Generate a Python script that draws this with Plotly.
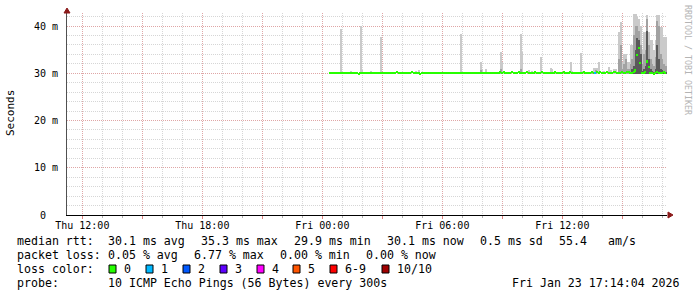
import pandas as pd
import plotly.graph_objects as go

# ------------------------------------------------------------------ data
day = "2026-01-23 "
median_start = day + "00:25"
# median RTT (ms), one value per 5-minute step, 00:25 .. 17:10
median_rtt_ms = [
    30.0, 30.0, 30.0, 30.0, 30.0, 30.0, 30.0,                               # 00:25-00:55
    30.0, 30.0, 30.0, 30.0, 30.0, 30.0, 30.0, 30.0, 30.0, 30.0, 29.9, 30.0,  # 01
    30.0, 30.0, 30.0, 30.0, 30.0, 30.0, 30.1, 30.0, 30.0, 30.0, 30.0, 30.0,  # 02
    30.0, 30.0, 30.0, 30.0, 30.0, 30.0, 30.0, 30.0, 30.0, 30.2, 30.0, 30.0,  # 03
    30.0, 30.0, 30.0, 30.0, 30.0, 30.0, 30.2, 30.0, 30.0, 30.0, 30.0, 29.8,  # 04
    30.0, 30.0, 30.0, 30.0, 30.0, 30.0, 30.0, 30.0, 30.0, 30.0, 30.0, 30.0,  # 05
    30.0, 30.0, 30.0, 30.0, 30.0, 30.0, 30.1, 30.0, 30.0, 30.0, 30.0, 30.0,  # 06
    30.0, 30.0, 30.0, 30.0, 30.0, 30.0, 30.0, 30.0, 30.0, 30.0, 30.0, 30.1,  # 07
    30.0, 30.0, 30.0, 30.0, 30.0, 30.0, 30.0, 30.0, 30.0, 30.0, 30.0, 30.2,  # 08
    30.0, 30.2, 30.0, 30.0, 30.0, 30.0, 30.2, 30.0, 30.0, 30.0, 30.2, 30.0,  # 09
    30.0, 30.0, 30.0, 30.2, 30.0, 30.0, 30.0, 30.0, 30.2, 30.0, 30.0, 30.0,  # 10
    30.2, 30.0, 30.0, 30.0, 30.0, 30.0, 30.0, 30.0, 30.2, 30.0, 30.0, 30.0,  # 11
    30.0, 30.2, 30.0, 30.0, 30.0, 30.2, 30.0, 30.0, 30.0, 30.0, 30.0, 30.0,  # 12
    30.0, 30.2, 30.0, 30.0, 30.0, 30.0, 30.2, 30.0, 30.1, 30.2, 30.0, 30.2,  # 13
    30.0, 30.0, 30.0, 30.2, 30.0, 30.0, 30.0, 30.2, 30.2, 30.0, 30.1, 30.0,  # 14
    30.2, 30.0, 30.0, 30.2, 30.2, 30.0, 30.0, 30.2, 30.6, 33.8, 35.3, 32.2,  # 15
    30.0, 30.1, 30.3, 32.5, 31.3, 30.1, 30.0, 29.9, 30.0, 30.2, 30.0, 30.0,  # 16
    30.0, 30.2, 30.1,                                                        # 17:00-17:10
]
# lost pings (out of 10) per step
loss_count = [
    0, 0, 0, 0, 0, 0, 0,
    0, 0, 0, 0, 0, 0, 0, 0, 0, 0, 0, 0,
    0, 0, 0, 0, 0, 0, 0, 0, 0, 0, 0, 0,
    0, 0, 0, 0, 0, 0, 0, 0, 0, 0, 0, 0,
    0, 0, 0, 0, 0, 0, 0, 0, 0, 0, 0, 0,
    0, 0, 0, 0, 0, 0, 0, 0, 0, 0, 0, 0,
    0, 0, 0, 0, 0, 0, 0, 0, 0, 0, 0, 0,
    0, 0, 0, 0, 0, 0, 0, 0, 0, 0, 0, 0,
    0, 0, 0, 0, 0, 0, 0, 0, 0, 0, 0, 0,
    0, 0, 0, 0, 0, 0, 0, 0, 0, 0, 0, 0,
    0, 0, 0, 0, 0, 0, 0, 0, 0, 0, 0, 0,
    0, 0, 0, 0, 0, 0, 0, 0, 0, 0, 0, 0,
    0, 0, 0, 0, 0, 0, 0, 0, 0, 0, 0, 0,
    0, 0, 0, 0, 0, 0, 0, 0, 1, 0, 0, 0,
    0, 0, 0, 0, 0, 0, 0, 0, 0, 0, 0, 0,
    0, 0, 0, 0, 0, 0, 0, 0, 0, 0, 0, 0,
    0, 0, 0, 0, 0, 0, 0, 0, 0, 0, 0, 0,
    0, 0, 0,
]
# smoke (ping spread) per step where visible: outer / middle / inner tops (ms)
smoke_times = [
    "00:55", "01:00", "01:25", "01:55", "02:00", "02:25", "02:55", "03:00",
    "04:25", "04:40", "04:50", "05:25", "05:35", "06:55", "07:00", "07:55",
    "08:00", "08:10", "08:55", "09:00", "09:05", "09:55", "10:00", "10:20",
    "10:30", "10:55", "11:00", "11:25", "11:30", "11:45", "12:25", "12:30",
    "12:55", "13:00", "13:10", "13:30", "13:35", "13:40", "13:45", "13:50",
    "14:05", "14:20", "14:25", "14:35", "14:40", "14:50", "14:55", "15:00",
    "15:05", "15:10", "15:15", "15:20", "15:25", "15:30", "15:35", "15:40",
    "15:45", "15:50", "15:55", "16:00", "16:05", "16:10", "16:15", "16:20",
    "16:25", "16:30", "16:35", "16:40", "16:45", "16:50", "16:55", "17:00",
    "17:05", "17:10",
]
smoke_outer = [
    39.4, 30.3, 30.4, 40.1, 30.6, 30.4, 37.7, 30.3,
    30.3, 30.4, 30.6, 30.3, 30.3, 38.4, 30.3, 32.4,
    31.0, 30.8, 34.6, 32.4, 30.4, 38.4, 34.4, 30.7,
    30.4, 33.5, 30.4, 31.2, 30.8, 30.3, 32.4, 30.4,
    34.3, 30.4, 30.3, 30.5, 31.1, 31.1, 31.1, 32.4,
    30.4, 31.3, 30.6, 31.0, 30.8, 38.7, 40.9, 32.4,
    34.1, 34.1, 32.4, 32.4, 36.0, 36.0, 42.5, 42.5,
    42.0, 41.5, 40.0, 35.0, 38.7, 38.7, 42.3, 38.7,
    37.0, 37.0, 35.0, 37.0, 42.3, 42.3, 39.8, 39.8,
    37.7, 37.7,
]
smoke_middle = [
    None, None, 30.3, None, None, None, None, None,
    None, None, None, None, None, None, None, 30.6,
    None, None, 31.0, None, None, 31.0, None, None,
    None, None, None, None, None, None, None, None,
    None, None, None, 30.5, None, 30.6, None, None,
    None, None, None, None, None, 33.0, 36.0, 31.0,
    32.0, 33.0, 31.0, 31.0, 32.0, 33.0, 38.0, 40.1,
    40.0, 39.0, 36.0, 32.0, 34.0, 35.0, 41.5, 36.0,
    33.0, 32.0, 31.5, 33.5, 41.0, 40.0, 34.0, 33.0,
    32.0, 31.5,
]
smoke_inner = [
    None, None, None, None, None, None, None, None,
    None, None, None, None, None, None, None, None,
    None, None, None, None, None, None, None, None,
    None, None, None, None, None, None, None, None,
    None, None, None, None, None, None, None, None,
    None, None, None, None, None, None, None, None,
    None, None, None, None, None, 31.0, 31.5, 35.0,
    37.5, 37.0, 34.0, 30.5, 31.0, 31.5, 39.0, 33.0,
    31.0, 30.5, 30.3, 31.0, 36.0, 33.0, 31.0, 30.6,
    30.5, 30.3,
]
x_tick_times = ["2026-01-22 12:00", "2026-01-22 15:00", "2026-01-22 18:00", "2026-01-22 21:00",
                "2026-01-23 00:00", "2026-01-23 03:00", "2026-01-23 06:00", "2026-01-23 09:00",
                "2026-01-23 12:00", "2026-01-23 15:00"]
x_tick_labels = ["Thu 12:00", "", "Thu 18:00", "", "Fri 00:00", "", "Fri 06:00", "", "Fri 12:00", ""]
y_tick_values = [0, 10, 20, 30, 40]
y_tick_labels = ["0\u00a0\u00a0", "10 m", "20 m", "30 m", "40 m"]

legend_rtt = ["median rtt:", "30.1 ms avg", "35.3 ms max", "29.9 ms min", "30.1 ms now",
              "0.5 ms sd", "55.4", "am/s"]
legend_loss = ["packet loss:", "0.05 % avg", "6.77 % max", "0.00 % min", "0.00 % now"]
loss_labels = ["0", "1", "2", "3", "4", "5", "6-9", "10/10"]
loss_colors = ["#26ff00", "#00b8ff", "#0059ff", "#5e00ff", "#ff00ff", "#ff5500", "#ff0000", "#a00000"]
loss_class = {0: 0, 1: 1, 2: 2, 3: 3, 4: 4, 5: 5, 6: 6, 7: 6, 8: 6, 9: 6, 10: 7}
probe_text = "10 ICMP Echo Pings (56 Bytes) every 300s"
stamp_text = "Fri Jan 23 17:14:04 2026"

# ------------------------------------------------------------------ layout constants
W, H = 697, 297
L, R, T, B = 67, 667, 13, 215
MONO = "DejaVu Sans Mono"
STEP_MS = 300000
BAR_W = 360000


def px(x):
    return (x - L) / (R - L)


def py(y):
    return (B - y) / (B - T)


times = pd.date_range(median_start, periods=len(median_rtt_ms), freq="5min")
s_times = pd.to_datetime([day + t for t in smoke_times])
SMOKE_BASE = 29.8

fig = go.Figure()

for vals, col in ((smoke_outer, "#cacaca"), (smoke_middle, "#a2a2a2"), (smoke_inner, "#5a5a5a")):
    xs = [t for t, v in zip(s_times, vals) if v is not None]
    ys = [v - SMOKE_BASE for v in vals if v is not None]
    fig.add_trace(go.Bar(x=xs, y=ys, base=SMOKE_BASE, width=[BAR_W] * len(xs),
                         marker=dict(color=col, line=dict(width=0)), hoverinfo="skip",
                         showlegend=False))

med_colors = [loss_colors[loss_class[c]] for c in loss_count]
fig.add_trace(go.Bar(x=times, y=[0.5] * len(times), base=[m - 0.25 for m in median_rtt_ms],
                     width=[STEP_MS] * len(times),
                     marker=dict(color=med_colors, line=dict(width=0)),
                     hoverinfo="skip", showlegend=False))

MAJ = "rgba(228,140,140,0.65)"
MIN = "rgba(165,165,165,0.45)"
DASH = "1px,1px"

fig.update_layout(
    width=W, height=H, autosize=False,
    margin=dict(l=L, r=W - R, t=T, b=H - B, autoexpand=False),
    paper_bgcolor="white", plot_bgcolor="white",
    barmode="overlay", bargap=0,
    font=dict(family=MONO, size=10, color="black"),
    xaxis=dict(
        type="date", range=["2026-01-22 11:14:04", "2026-01-23 17:14:04"],
        tickvals=x_tick_times, ticktext=x_tick_labels,
        showgrid=True, gridcolor=MAJ, griddash=DASH, gridwidth=1,
        ticks="outside", ticklen=3, tickcolor="#e08080", tickwidth=1,
        showline=True, linecolor="black", linewidth=1,
        zeroline=False, tickfont=dict(family=MONO, size=10, color="black"),
        ticklabelstandoff=-2,
        minor=dict(dtick=3600000, tick0="2026-01-22 12:00", showgrid=True, gridcolor=MIN,
                   griddash=DASH, gridwidth=1, ticks="outside", ticklen=2, tickcolor="#b0b0b0"),
        fixedrange=True,
    ),
    yaxis=dict(
        range=[0, (B - T) / 4.725], tickvals=y_tick_values, ticktext=y_tick_labels,
        showgrid=True, gridcolor=MAJ, griddash=DASH, gridwidth=1,
        ticks="", showline=True, linecolor="#505050", linewidth=1, zeroline=False,
        tickfont=dict(family=MONO, size=10, color="black"), ticklabelstandoff=6,
        minor=dict(dtick=2, showgrid=True, gridcolor=MIN, griddash=DASH, gridwidth=1),
        fixedrange=True,
    ),
)

ann = []


def text(s, x, y, anchor="left", size=11.6, color="black", angle=0, family=MONO):
    ann.append(dict(text=s, x=px(x), y=py(y), xref="paper", yref="paper", showarrow=False,
                    xanchor=anchor, yanchor="middle", textangle=angle, borderpad=0,
                    font=dict(family=family, size=size, color=color)))


row_y = [241, 255, 269, 283]
for s, x in zip(legend_rtt, [16, 107, 200, 293, 386, 479, 558, 607]):
    text(s, x, row_y[0])
for s, x in zip(legend_loss, [16, 107, 193, 279, 365]):
    text(s, x, row_y[1])
text("loss color:", 16, row_y[2])
box_x = [109, 146, 183, 220, 257, 293, 330, 382]
shapes = []
for lab, col, bx in zip(loss_labels, loss_colors, box_x):
    shapes.append(dict(type="rect", xref="paper", yref="paper", x0=px(bx), x1=px(bx + 7),
                       y0=py(273), y1=py(265), fillcolor=col, line=dict(color="black", width=1)))
    text(lab, bx + 14, row_y[2])
text("probe:", 16, row_y[3])
text(probe_text, 107, row_y[3])
text(stamp_text, 681, row_y[3], anchor="right")

text("Seconds", 10, 113, anchor="center", size=11, angle=-90)
ann.append(dict(text="RRDTOOL / TOBI OETIKER", x=px(688), y=py(60), xref="paper", yref="paper",
                showarrow=False, xanchor="center", yanchor="middle", textangle=90, borderpad=0,
                font=dict(family=MONO, size=8.3, color="#b4b4b4")))

ARROW = "#8b1a1a"


def tri(pts):
    p = " L ".join(f"{px(a):.5f},{py(b):.5f}" for a, b in pts)
    return dict(type="path", xref="paper", yref="paper", path=f"M {p} Z",
                fillcolor=ARROW, line=dict(color=ARROW, width=1))


shapes.append(tri([(64, 13), (70, 13), (67, 8)]))
shapes.append(tri([(668, 212), (668, 218), (673, 215)]))

fig.update_layout(annotations=ann, shapes=shapes)
fig.write_html("out.html")
